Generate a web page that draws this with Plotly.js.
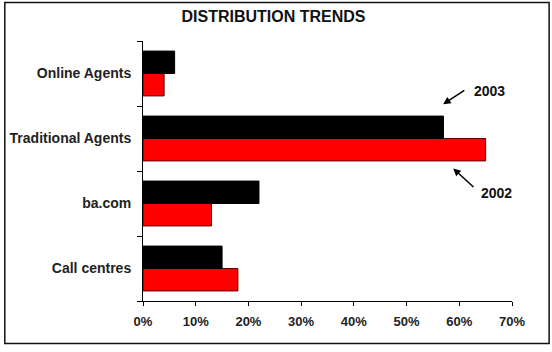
<!DOCTYPE html>
<html>
<head>
<meta charset="utf-8">
<script src="https://cdn.plot.ly/plotly-3.0.1.min.js"></script>
<style>html,body{margin:0;padding:0;background:#fff;}#chart{width:552px;height:352px;}</style>
</head>
<body>
<div id="chart"></div>
<script>
// Data (bottom-to-top category order)
var categories = ['Call centres', 'ba.com', 'Traditional Agents', 'Online Agents'];
var values2002 = [18, 13, 65, 4];
var values2003 = [15, 22, 57, 6];
var xTicks = [0, 10, 20, 30, 40, 50, 60, 70];

var FONT = 'Arial, "Liberation Sans", sans-serif';

var traces = [
  {
    type: 'bar', orientation: 'h', name: '2002',
    y: categories, x: values2002,
    marker: {color: '#ff0000', line: {color: '#5a0000', width: 1}},
    hoverinfo: 'x+y'
  },
  {
    type: 'bar', orientation: 'h', name: '2003',
    y: categories, x: values2003,
    marker: {color: '#000000', line: {color: '#000000', width: 1}},
    hoverinfo: 'x+y'
  }
];

var layout = {
  width: 552, height: 352,
  margin: {l: 143, r: 40, t: 41, b: 51, pad: 0},
  paper_bgcolor: '#ffffff', plot_bgcolor: '#ffffff',
  showlegend: false,
  barmode: 'group', bargap: 0.31, bargroupgap: 0,
  font: {family: FONT, color: '#222222', size: 13},
  title: {
    text: '<b>DISTRIBUTION TRENDS</b>',
    font: {family: FONT, size: 16, color: '#111111'},
    x: 0.4955, xanchor: 'center', xref: 'container',
    y: 0.953, yanchor: 'middle', yref: 'container'
  },
  xaxis: {
    range: [0, 70], tickvals: xTicks, ticktext: xTicks.map(function(v){return '<b>' + v + '%</b>';}),
    showgrid: false, zeroline: false,
    showline: true, linecolor: '#000', linewidth: 1,
    ticks: 'outside', ticklen: 4, tickcolor: '#000', tickwidth: 1,
    ticklabelstandoff: 4,
    tickfont: {family: FONT, size: 13, color: '#222'},
    fixedrange: true
  },
  yaxis: {
    type: 'category', categoryorder: 'array', categoryarray: categories,
    tickvals: categories, ticktext: categories.map(function(c){return '<b>' + c + '</b>';}),
    range: [-0.5, 3.5],
    showgrid: false, zeroline: false,
    showline: true, linecolor: '#000', linewidth: 1,
    ticks: 'outside', ticklen: 5, tickcolor: '#000', tickwidth: 1,
    tickson: 'boundaries',
    ticklabelstandoff: 8,
    tickfont: {family: FONT, size: 14, color: '#222'},
    fixedrange: true
  },
  shapes: [
    {type: 'rect', xref: 'paper', yref: 'paper',
     x0: -0.3745, x1: 1.1006, y0: -0.1635, y1: 1.148,
     line: {color: '#111', width: 1.5}, fillcolor: 'rgba(0,0,0,0)', layer: 'above'}
  ],
  annotations: [
    {xref: 'paper', yref: 'paper', x: 0.8134, y: 0.7565, ax: 22.7, ay: -15,
     text: '', showarrow: true, arrowhead: 2, arrowsize: 1, arrowwidth: 1.5, arrowcolor: '#000'},
    {xref: 'paper', yref: 'paper', x: 0.8407, y: 0.510, ax: 21.7, ay: 20,
     text: '', showarrow: true, arrowhead: 2, arrowsize: 1, arrowwidth: 1.5, arrowcolor: '#000'},
    {xref: 'paper', yref: 'paper', x: (489.5 - 143) / 369, y: (301 - 90.7) / 260,
     text: '<b>2003</b>', showarrow: false, xanchor: 'center', yanchor: 'middle',
     font: {family: FONT, size: 14, color: '#111'}},
    {xref: 'paper', yref: 'paper', x: (496.7 - 143) / 369, y: (301 - 193.3) / 260,
     text: '<b>2002</b>', showarrow: false, xanchor: 'center', yanchor: 'middle',
     font: {family: FONT, size: 14, color: '#111'}}
  ]
};

Plotly.newPlot('chart', traces, layout, {staticPlot: true, displayModeBar: false});
</script>
</body>
</html>
